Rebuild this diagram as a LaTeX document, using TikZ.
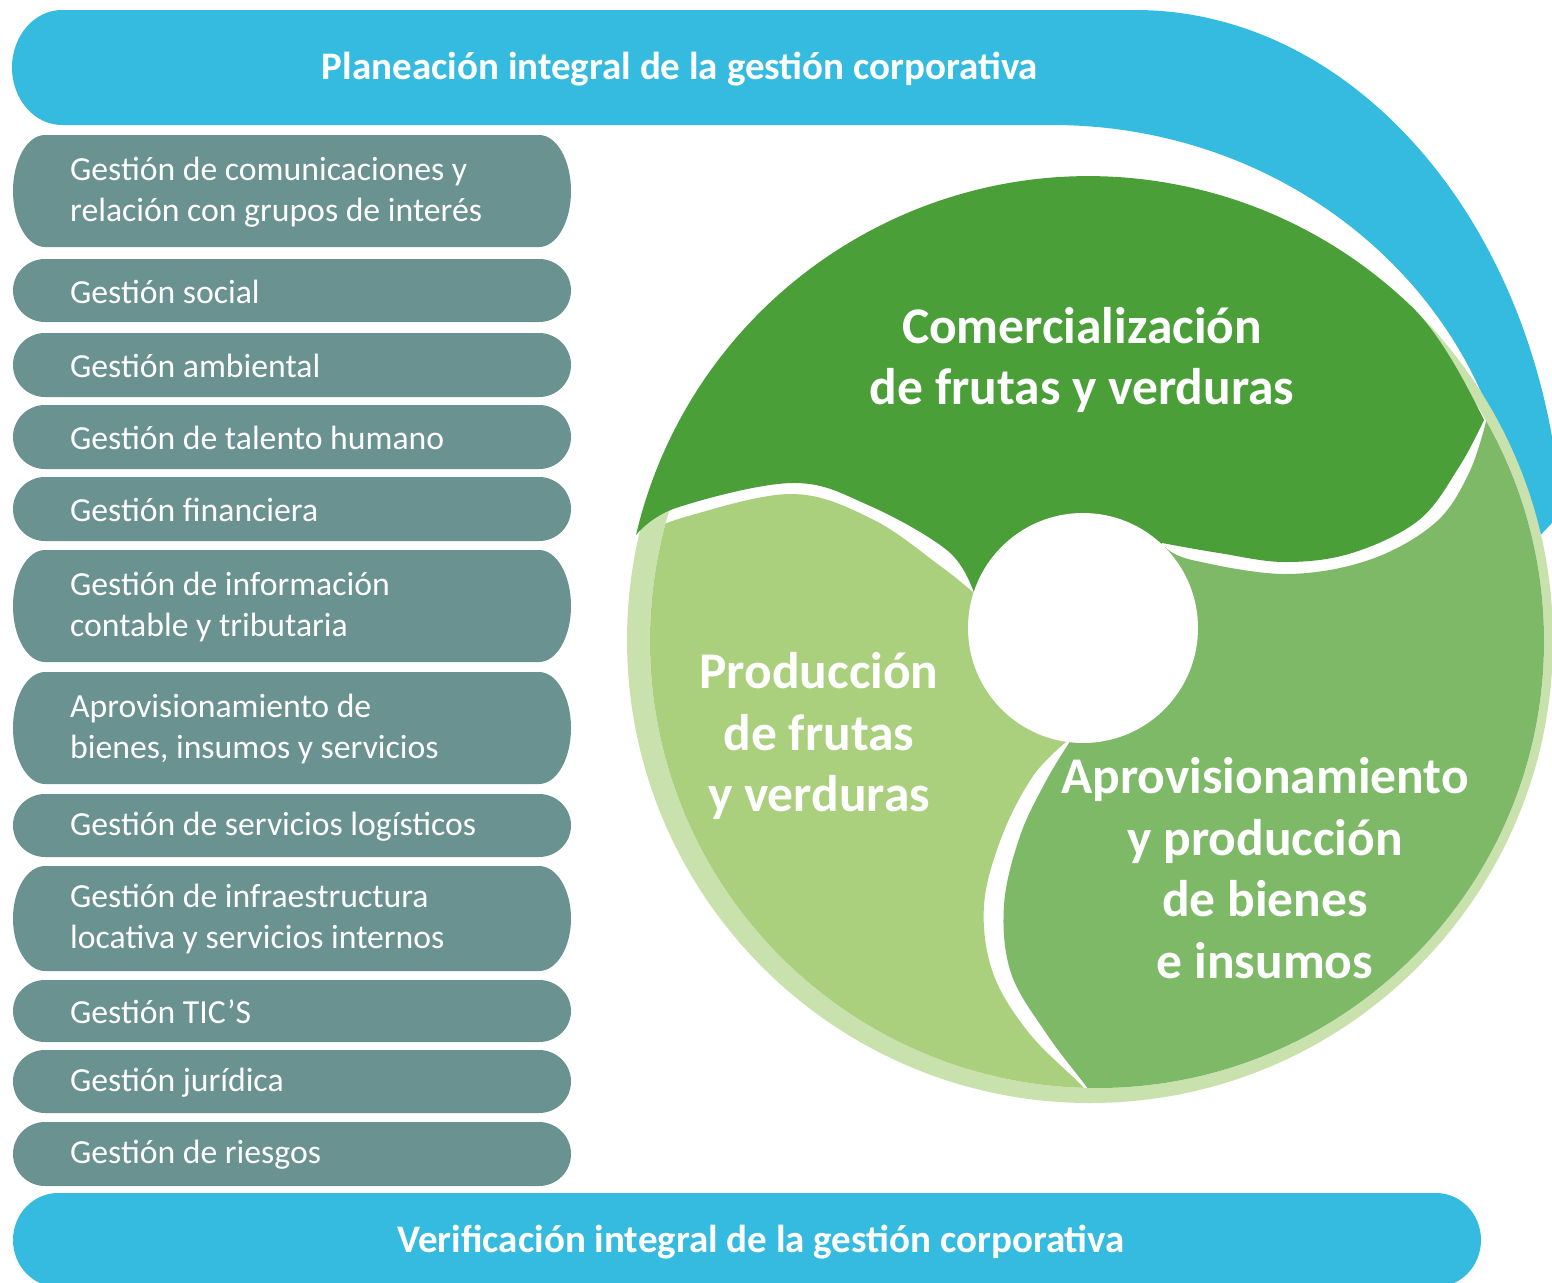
\documentclass[tikz,border=0pt]{standalone}
\usepackage{fontspec}
\setmainfont{Carlito}
\definecolor{cblue}{RGB}{53,187,224}
\definecolor{cdark}{RGB}{74,159,56}
\definecolor{cmid}{RGB}{125,185,103}
\definecolor{clight}{RGB}{170,207,125}
\definecolor{cpale}{RGB}{201,225,173}
\definecolor{cgray}{RGB}{106,146,144}
\newcommand{\mylistbox}[4]{%
  \fill[cgray] (13,{(#1+#2)/2}) arc[start angle=180,end angle=270,x radius=32,y radius={(#2-#1)/2}]
    -- (539,#1) arc[start angle=270,end angle=360,x radius=32,y radius={(#2-#1)/2}]
    arc[start angle=0,end angle=90,x radius=32,y radius={(#2-#1)/2}]
    -- (45,#2) arc[start angle=90,end angle=180,x radius=32,y radius={(#2-#1)/2}] -- cycle;
  \node[itemtext] (#3) at (70,{(#1+#2)/2+1}) {#4};}
\begin{document}
\begin{tikzpicture}[x=1pt,y=-1pt,
  bandtext/.style={text=white,font=\bfseries\fontsize{39}{46}\selectfont,inner sep=0pt},
  segtext/.style={text=white,font=\bfseries\fontsize{51.5}{61.5}\selectfont,align=center,inner sep=0pt},
  itemtext/.style={text=white,font=\fontsize{33.7}{41}\selectfont,anchor=west,align=left,inner sep=0pt}]
\useasboundingbox (0,0) rectangle (1552,1282);
\clip (0,0) rectangle (1552,1282);
% top blue band
\fill[cblue] (62,10) -- (1135,10)
  arc[start angle=270,end angle=355,x radius=428,y radius=551]
  -- (1517,560)
  arc[start angle=0,end angle=-90,x radius=465,y radius=435]
  -- (62,125) arc[start angle=90,end angle=270,x radius=50,y radius=57.5] -- cycle;
% bottom blue band
\fill[cblue] (13,1240) arc[start angle=180,end angle=270,x radius=45,y radius=47]
  -- (1436,1193) arc[start angle=270,end angle=450,x radius=45,y radius=47]
  -- (58,1287) arc[start angle=90,end angle=180,x radius=45,y radius=47] -- cycle;
% disk
\fill[cpale] (1090,640) circle[radius=463];
\fill[white] (1097,641) circle[radius=447];
\begin{scope}
\clip (1097,641) circle[radius=447];
\fill[clight] plot[smooth,tension=0.6] coordinates {(636,537) (685,517) (792,494) (872,519) (939,565) (974,593)}
  -- (1083,628)
  -- plot[smooth,tension=0.6] coordinates {(1066,742) (1033,776) (1002,836) (984,905) (993,973) (1029,1033) (1082,1086) (1100,1110)}
  -- (1100,1200) -- (500,1200) -- (500,537) -- cycle;
\fill[cmid] plot[smooth,tension=0.6] coordinates {(1069,743) (1046,781) (1020,836) (1004,905) (1011,973) (1046,1033) (1086,1086) (1104,1110)}
  -- (1700,1200) -- (1700,400) -- (1490,400)
  -- plot[smooth,tension=0.6] coordinates {(1487,418) (1469,473) (1435,523) (1369,560) (1285,574) (1192,560) (1165,547)}
  -- (1083,628) -- cycle;
\end{scope}
\fill[cdark] (636,535) arc[start angle=193.2,end angle=314,radius=465]
  .. controls (1441,335) and (1466,384) .. (1484,420)
  -- plot[smooth,tension=0.6] coordinates {(1484,420) (1459,467) (1419,520) (1352,553) (1285,562) (1219,553) (1162,543)}
  -- (1083,628)
  -- plot[smooth,tension=0.6] coordinates {(974,593) (948,551) (868,505) (792,483) (676,508) (636,535)} -- cycle;
\fill[white] (1083,628) circle[radius=115];
% texts
\node[bandtext] (plan) at (680,69) {Planeación integral de la gestión corporativa};
\node[bandtext] (verif) at (761,1242) {Verificación integral de la gestión corporativa};
\node[segtext] (comer) at (1082,360) {Comercialización\\de frutas y verduras};
\node[segtext] (prod) at (819,736) {Producción\\de frutas\\y verduras};
\node[segtext] (aprov) at (1265,868) {Aprovisionamiento\\y producción\\de bienes\\e insumos};
% list
\mylistbox{135}{247}{l1}{Gestión de comunicaciones y\\relación con grupos de interés}
\mylistbox{259}{322}{l2}{Gestión social}
\mylistbox{333}{397}{l3}{Gestión ambiental}
\mylistbox{405}{469}{l4}{Gestión de talento humano}
\mylistbox{477}{541}{l5}{Gestión financiera}
\mylistbox{550}{662}{l6}{Gestión de información\\contable y tributaria}
\mylistbox{672}{784}{l7}{Aprovisionamiento de\\bienes, insumos y servicios}
\mylistbox{794}{857}{l8}{Gestión de servicios logísticos}
\mylistbox{866}{971}{l9}{Gestión de infraestructura\\locativa y servicios internos}
\mylistbox{980}{1042}{l10}{Gestión TIC’S}
\mylistbox{1050}{1113}{l11}{Gestión jurídica}
\mylistbox{1122}{1186}{l12}{Gestión de riesgos}
\end{tikzpicture}
\end{document}
